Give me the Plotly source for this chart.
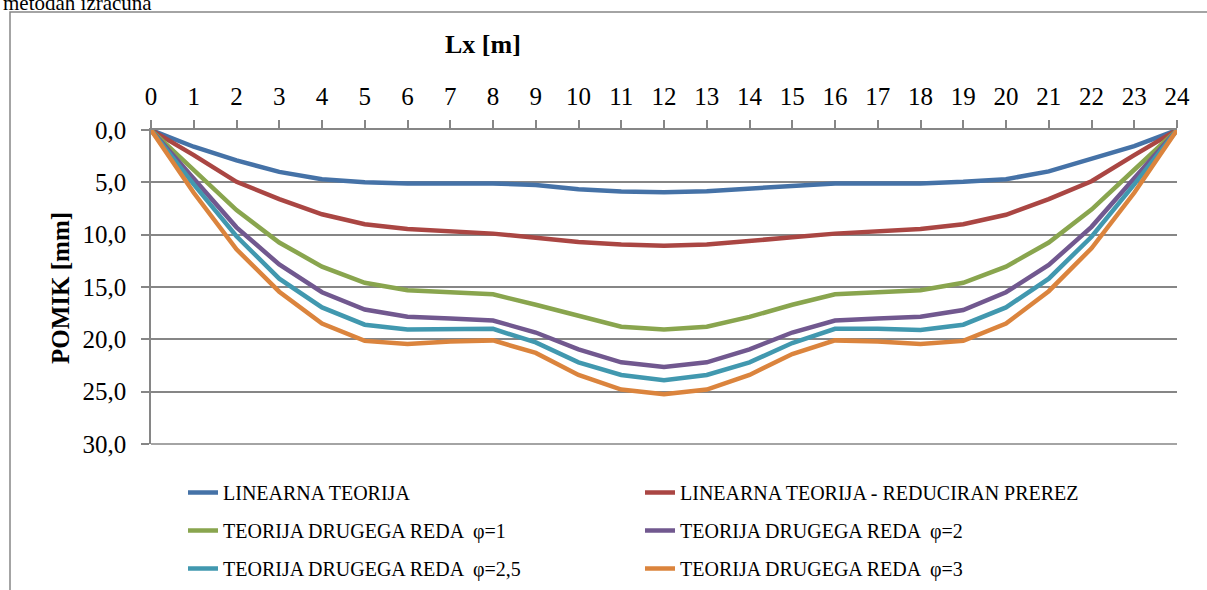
import plotly.graph_objects as go

# ---- data ----
lx = list(range(0, 25))
x_tick_labels = [str(v) for v in lx]
y_tick_vals = [0, 5, 10, 15, 20, 25, 30]

series_names = [
    "LINEARNA TEORIJA",
    "LINEARNA TEORIJA - REDUCIRAN PREREZ",
    "TEORIJA DRUGEGA REDA  φ=1",
    "TEORIJA DRUGEGA REDA  φ=2",
    "TEORIJA DRUGEGA REDA  φ=2,5",
    "TEORIJA DRUGEGA REDA  φ=3",
]
linearna = [0, 1.6, 2.9, 4.0, 4.7, 5.0, 5.1, 5.1, 5.1, 5.25, 5.65, 5.87, 5.95,
            5.85, 5.6, 5.25, 5.1, 5.1, 5.1, 4.95, 4.7, 3.95, 2.8, 1.55, 0]
reduciran = [0, 2.4, 4.95, 6.6, 8.05, 9.0, 9.45, 9.65, 9.9, 10.3, 10.7, 10.95, 11.05,
             10.95, 10.65, 10.25, 9.9, 9.65, 9.45, 9.0, 8.1, 6.6, 4.9, 2.4, 0]
phi_1 = [0, 3.8, 7.65, 10.75, 13.05, 14.6, 15.3, 15.5, 15.7, 16.7, 17.8, 18.8, 19.05,
         18.8, 17.85, 16.7, 15.7, 15.5, 15.3, 14.6, 13.05, 10.75, 7.6, 3.8, 0]
phi_2 = [0, 4.6, 9.3, 12.85, 15.5, 17.15, 17.85, 18.0, 18.2, 19.35, 20.95, 22.2, 22.65,
         22.2, 20.95, 19.35, 18.2, 18.0, 17.85, 17.2, 15.5, 12.9, 9.25, 4.6, 0]
phi_25 = [0, 5.2, 10.15, 14.2, 16.95, 18.6, 19.05, 19.0, 19.0, 20.3, 22.2, 23.4, 23.9,
          23.4, 22.2, 20.35, 19.0, 19.0, 19.1, 18.6, 16.95, 14.2, 10.2, 5.2, 0]
phi_3 = [0, 6.0, 11.4, 15.45, 18.5, 20.15, 20.45, 20.2, 20.1, 21.3, 23.4, 24.8, 25.25,
         24.8, 23.4, 21.4, 20.1, 20.2, 20.45, 20.15, 18.5, 15.4, 11.3, 6.0, 0]

series_values = [linearna, reduciran, phi_1, phi_2, phi_25, phi_3]
colors = ["#4572A7", "#AA4643", "#89A54E", "#71588F", "#4198AF", "#DB843D"]
legend_ids = ["legend", "legend2", "legend", "legend2", "legend", "legend2"]

FONT = "Times New Roman, Liberation Serif, DejaVu Serif, serif"
GRID = "#868686"

W, H = 1207, 590
L, R, T, B = 151, 30, 130, 146
PW, PH = W - L - R, H - T - B


def px_x(px):
    return (px - L) / PW


def px_y(py):
    return (H - B - py) / PH


fig = go.Figure()
for name, vals, col, lg in zip(series_names, series_values, colors, legend_ids):
    fig.add_trace(go.Scatter(
        x=lx, y=vals, mode="lines", name=name,
        line=dict(color=col, width=4.5),
        legend=lg, legendgroup=name,
    ))

legend_common = dict(
    orientation="v", traceorder="grouped", tracegroupgap=9,
    font=dict(family=FONT, size=20, color="#000000"),
    bgcolor="rgba(0,0,0,0)", borderwidth=0,
    xanchor="left", yanchor="top", itemwidth=30,
    xref="container", yref="container",
)

fig.update_layout(
    width=W, height=H,
    margin=dict(l=L, r=R, t=T, b=B, autoexpand=False),
    paper_bgcolor="white", plot_bgcolor="white",
    separators=", ",
    font=dict(family=FONT, color="#000000"),
    showlegend=True,
    legend=dict(x=183 / W, y=1 - 473 / H, **legend_common),
    legend2=dict(x=640 / W, y=1 - 473 / H, **legend_common),
    xaxis=dict(
        range=[0, 24], side="top", tickmode="array",
        tickvals=lx, ticktext=x_tick_labels,
        showgrid=False, zeroline=False, automargin=False,
        showline=True, linecolor=GRID, linewidth=1.5,
        ticks="outside", ticklen=8, tickwidth=1.5, tickcolor=GRID,
        tickfont=dict(family=FONT, size=25, color="#000000"),
        ticklabelstandoff=5,
    ),
    yaxis=dict(
        range=[30, 0], tickmode="array", tickvals=y_tick_vals,
        tickformat=".1f", automargin=False,
        showgrid=True, gridcolor=GRID, gridwidth=1.5, zeroline=False,
        showline=True, linecolor=GRID, linewidth=1.5,
        ticks="outside", ticklen=8, tickwidth=1.5, tickcolor=GRID,
        tickfont=dict(family=FONT, size=25, color="#000000"),
        ticklabelstandoff=10,
    ),
    shapes=[
        dict(type="rect", xref="paper", yref="paper",
             x0=px_x(10), x1=px_x(1240), y0=px_y(620), y1=px_y(12),
             line=dict(color=GRID, width=1.5), fillcolor="rgba(0,0,0,0)",
             layer="below"),
        dict(type="line", xref="paper", yref="paper",
             x0=0, x1=1, y0=0, y1=0, line=dict(color=GRID, width=1.5)),
    ],
    annotations=[
        dict(text="<b>Lx [m]</b>", xref="paper", yref="paper",
             x=px_x(483), y=px_y(44), xanchor="center", yanchor="middle",
             showarrow=False, font=dict(family=FONT, size=26, color="#000000")),
        dict(text="<b>POMIK [mm]</b>", xref="paper", yref="paper",
             x=px_x(60), y=px_y(288), xanchor="center", yanchor="middle",
             textangle=-90, showarrow=False,
             font=dict(family=FONT, size=25, color="#000000")),
        dict(text="metodah izračuna", xref="paper", yref="paper",
             x=px_x(1), y=px_y(17), xanchor="left", yanchor="bottom",
             showarrow=False, font=dict(family=FONT, size=21, color="#000000")),
    ],
)

fig.write_html(
    "out.html",
    config={"displayModeBar": False},
    post_script="document.body.style.margin='0';document.body.style.overflow='hidden';",
)
